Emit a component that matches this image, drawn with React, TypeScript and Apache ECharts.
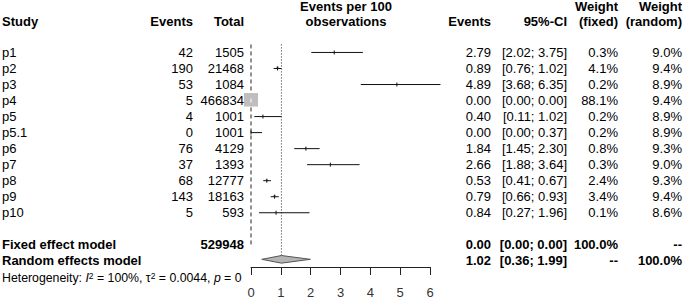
import React, { useEffect, useRef } from "react";
import * as echarts from "echarts";

const studies = ["p1", "p2", "p3", "p4", "p5", "p5.1", "p6", "p7", "p8", "p9", "p10"];
const events = [42, 190, 53, 5, 4, 0, 76, 37, 68, 143, 5];
const totals = [1505, 21468, 1084, 466834, 1001, 1001, 4129, 1393, 12777, 18163, 593];
const estimates = [2.79, 0.89, 4.89, 0.0, 0.4, 0.0, 1.84, 2.66, 0.53, 0.79, 0.84];
const lowers = [2.02, 0.76, 3.68, 0.0, 0.11, 0.0, 1.45, 1.88, 0.41, 0.66, 0.27];
const uppers = [3.75, 1.02, 6.35, 0.0, 1.02, 0.37, 2.3, 3.64, 0.67, 0.93, 1.96];
const weightFixed = [0.3, 4.1, 0.2, 88.1, 0.2, 0.2, 0.8, 0.3, 2.4, 3.4, 0.1];
const weightRandom = [9.0, 9.4, 8.9, 9.4, 8.9, 8.9, 9.3, 9.0, 9.3, 9.4, 8.6];

const pooledLabels = ["Fixed effect model", "Random effects model"];
const pooledTotals = ["529948", ""];
const pooledEst = [0.0, 1.02];
const pooledLower = [0.0, 0.36];
const pooledUpper = [0.0, 1.99];
const pooledWF = ["100.0%", "--"];
const pooledWR = ["--", "100.0%"];
const pooledRows = [12, 13];

const xTicks = [0, 1, 2, 3, 4, 5, 6];
const fixedLine = 0.0;
const randomLine = 1.02;

const FONT = "Liberation Sans, Arial, Helvetica, sans-serif";

// column right edges (layout)
const colX = { study: 2, events: 193, total: 244, est: 491, ci: 567, wf: 618, wr: 682 };

type Row = { row: number; bold: boolean; cells: string[] };
const textRows: Row[] = [
  ...studies.map((s, i) => ({
    row: i,
    bold: false,
    cells: [
      s,
      String(events[i]),
      String(totals[i]),
      estimates[i].toFixed(2),
      `[${lowers[i].toFixed(2)}; ${uppers[i].toFixed(2)}]`,
      weightFixed[i].toFixed(1) + "%",
      weightRandom[i].toFixed(1) + "%",
    ],
  })),
  ...pooledLabels.map((s, k) => ({
    row: pooledRows[k],
    bold: true,
    cells: [
      s,
      "",
      pooledTotals[k],
      pooledEst[k].toFixed(2),
      `[${pooledLower[k].toFixed(2)}; ${pooledUpper[k].toFixed(2)}]`,
      pooledWF[k],
      pooledWR[k],
    ],
  })),
];

function txt(x: number, y: number, text: string, align: string, bold: boolean, size = 13) {
  return {
    type: "text",
    x,
    y,
    silent: true,
    style: {
      text,
      fill: "#000",
      font: `${bold ? "bold " : ""}${size}px ${FONT}`,
      align,
      verticalAlign: "middle",
      textAlign: align,
      textVerticalAlign: "middle",
    },
  };
}

export default function App() {
  const ref = useRef<HTMLDivElement>(null);
  useEffect(() => {
    if (!ref.current) return;
    const chart = echarts.init(ref.current, undefined, { renderer: "svg" });
    const colOrder = [colX.study, colX.events, colX.total, colX.est, colX.ci, colX.wf, colX.wr];

    const headers = [
      txt(colX.study, 21, "Study", "left", true),
      txt(colX.events, 21, "Events", "right", true),
      txt(colX.total, 21, "Total", "right", true),
      txt(346, 6, "Events per 100", "center", true),
      txt(346, 21, "observations", "center", true),
      txt(colX.est, 21, "Events", "right", true),
      txt(colX.ci, 21, "95%-CI", "right", true),
      txt(colX.wf, 6, "Weight", "right", true),
      txt(colX.wf, 21, "(fixed)", "right", true),
      txt(colX.wr, 6, "Weight", "right", true),
      txt(colX.wr, 21, "(random)", "right", true),
      {
        type: "text",
        x: 2,
        y: 278,
        silent: true,
        style: {
          text: "{a|Heterogeneity: }{i|I}{s|2}{a| = 100%, τ}{s|2}{a| = 0.0044, }{i|p}{a| = 0}",
          verticalAlign: "middle",
          textVerticalAlign: "middle",
          fill: "#000",
          rich: {
            a: { fontSize: 12.3, fontFamily: FONT, color: "#000", lineHeight: 14 },
            i: { fontSize: 12.3, fontFamily: FONT, fontStyle: "italic", color: "#000", lineHeight: 14 },
            s: { fontSize: 8.5, fontFamily: FONT, color: "#000", verticalAlign: "top", lineHeight: 14, padding: [0, 0, 6, 0] },
          },
        },
      },
    ];

    const option: any = {
      animation: false,
      grid: { left: 251, right: 255, top: 44.45, bottom: 31, containLabel: false },
      xAxis: {
        type: "value",
        min: xTicks[0],
        max: xTicks[xTicks.length - 1],
        interval: 1,
        axisLine: { show: true, onZero: false, lineStyle: { color: "#222", width: 1 } },
        axisTick: { show: true, inside: false, length: 8, lineStyle: { color: "#222" } },
        axisLabel: { margin: 19, fontSize: 13, fontFamily: FONT, color: "#333" },
        splitLine: { show: false },
      },
      yAxis: { type: "value", min: -0.5, max: 13.385, inverse: true, show: false },
      graphic: headers,
      series: [
        {
          type: "custom",
          clip: false,
          silent: true,
          data: [
            [fixedLine, -0.5, 12.14, 0],
            [randomLine, -0.5, 12.7, 1],
          ],
          renderItem: (params: any, api: any) => {
            const x = api.value(0);
            const p1 = api.coord([x, api.value(1)]);
            const p2 = api.coord([x, api.value(2)]);
            const dotted = api.value(3) === 1;
            return {
              type: "line",
              shape: { x1: p1[0], y1: p1[1], x2: p2[0], y2: p2[1] },
              style: { stroke: "#222", lineWidth: 1, lineDash: dotted ? [1, 2] : [4, 3] },
            };
          },
        },
        {
          type: "custom",
          clip: false,
          silent: true,
          data: studies.map((_, i) => [i, lowers[i], uppers[i], estimates[i], weightFixed[i]]),
          renderItem: (params: any, api: any) => {
            const r = api.value(0);
            const pL = api.coord([api.value(1), r]);
            const pU = api.coord([api.value(2), r]);
            const pE = api.coord([api.value(3), r]);
            const side = 14 * Math.sqrt(api.value(4) / 88.1);
            const big = side > 6;
            return {
              type: "group",
              children: [
                {
                  type: "rect",
                  shape: { x: pE[0] - side / 2, y: pE[1] - side / 2 - 0.5, width: side, height: side - 0.5 },
                  style: { fill: "#BEBEBE" },
                },
                {
                  type: "line",
                  shape: { x1: pL[0], y1: pL[1], x2: pU[0], y2: pU[1] },
                  style: { stroke: big ? "#fff" : "#111", lineWidth: 1 },
                },
                {
                  type: "line",
                  shape: { x1: pE[0], y1: pE[1] - 2, x2: pE[0], y2: pE[1] + 2 },
                  style: { stroke: big ? "#fff" : "#111", lineWidth: 1 },
                },
              ],
            };
          },
        },
        {
          type: "custom",
          clip: false,
          silent: true,
          data: [[pooledRows[1], pooledLower[1], pooledEst[1], pooledUpper[1]]],
          renderItem: (params: any, api: any) => {
            const r = api.value(0);
            const a = api.coord([api.value(1), r]);
            const b = api.coord([api.value(2), r]);
            const c = api.coord([api.value(3), r]);
            const dy = -1.5;
            const h = 3.8;
            return {
              type: "polygon",
              shape: {
                points: [
                  [a[0], a[1] + dy],
                  [b[0], b[1] + dy - h],
                  [c[0], c[1] + dy],
                  [b[0], b[1] + dy + h],
                ],
              },
              style: { fill: "#B4B4B4", stroke: "#555", lineWidth: 1 },
            };
          },
        },
        {
          type: "custom",
          clip: false,
          silent: true,
          data: textRows.map((r) => [0, r.row]),
          renderItem: (params: any, api: any) => {
            const row = textRows[params.dataIndex];
            const y = api.coord([0, api.value(1)])[1];
            return {
              type: "group",
              children: row.cells.map((c, k) => txt(colOrder[k], y, c, k === 0 ? "left" : "right", row.bold)),
            };
          },
        },
      ],
    };
    chart.setOption(option);
    return () => chart.dispose();
  }, []);
  return (
    <div
      ref={ref}
      style={{ position: "fixed", left: 0, top: 0, width: 685, height: 299, background: "#fff" }}
    />
  );
}
